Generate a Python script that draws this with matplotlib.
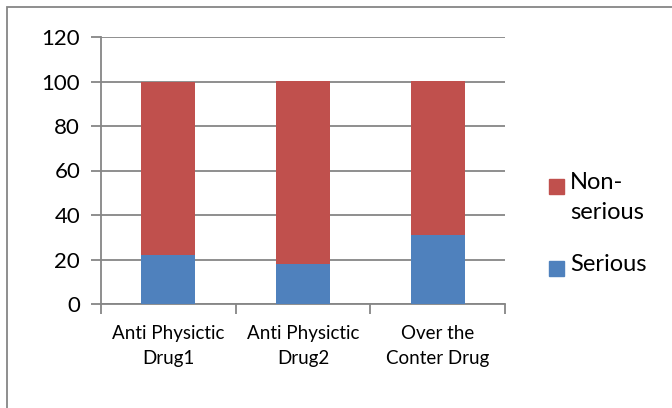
import matplotlib
matplotlib.use("Agg")
import matplotlib.pyplot as plt
from matplotlib.patches import Rectangle

plt.rcParams['font.family'] = ['Lato', 'DejaVu Sans']

# data
categories = ['Anti Physictic\nDrug1', 'Anti Physictic\nDrug2', 'Over the\nConter Drug']
serious = [22, 18, 31]
non_serious = [78, 82, 69]
series_names = ['Non-\nserious', 'Serious']
yticks = [0, 20, 40, 60, 80, 100, 120]

blue = '#4F81BD'
red = '#C0504D'
grey = '#868686'

W, H = 672, 408
fig = plt.figure(figsize=(W/100, H/100), dpi=100)
ax = fig.add_axes([101/W, 1-304/H, 404/W, 267/H])

x = range(len(categories))
ax.bar(x, serious, width=0.4, color=blue, zorder=3)
ax.bar(x, non_serious, width=0.4, bottom=serious, color=red, zorder=3)

ax.set_xlim(-0.5, 2.5)
ax.set_ylim(0, 120)
ax.set_yticks(yticks)
ax.grid(axis='y', color=grey, linewidth=1.3, zorder=0)
ax.set_axisbelow(True)

# category names on major ticks, boundary marks on minor ticks
ax.set_xticks(list(x))
ax.set_xticklabels(categories, fontsize=13.5, linespacing=1.55)
ax.set_xticks([-0.5, 0.5, 1.5, 2.5], minor=True)
ax.tick_params(axis='x', which='major', length=0, pad=15)
ax.tick_params(axis='x', which='minor', length=7, width=1.3, color=grey, direction='out')
ax.tick_params(axis='y', length=7, width=1.3, color=grey, labelsize=16, pad=8)

for s in ['top', 'right']:
    ax.spines[s].set_visible(False)
for s in ['left', 'bottom']:
    ax.spines[s].set_color(grey)
    ax.spines[s].set_linewidth(1.3)

# legend: square next to the first line of each name
legend_y = [186, 268]   # pixels from top
for name, col, ly in zip(series_names, [red, blue], legend_y):
    fig.patches.append(Rectangle((549/W, 1 - (ly + 8)/H), 15/W, 15/H,
                                 transform=fig.transFigure, color=col))
    fig.text(570/W, 1 - (ly - 14)/H, name, fontsize=17, ha='left', va='top',
             linespacing=1.5)

# outer frame
fig.patches.append(Rectangle((7/W, -0.01), 1.0, 1 - 7/H + 0.01, transform=fig.transFigure,
                             fill=False, edgecolor=grey, linewidth=1.3))

fig.savefig('out.png', dpi=100)
